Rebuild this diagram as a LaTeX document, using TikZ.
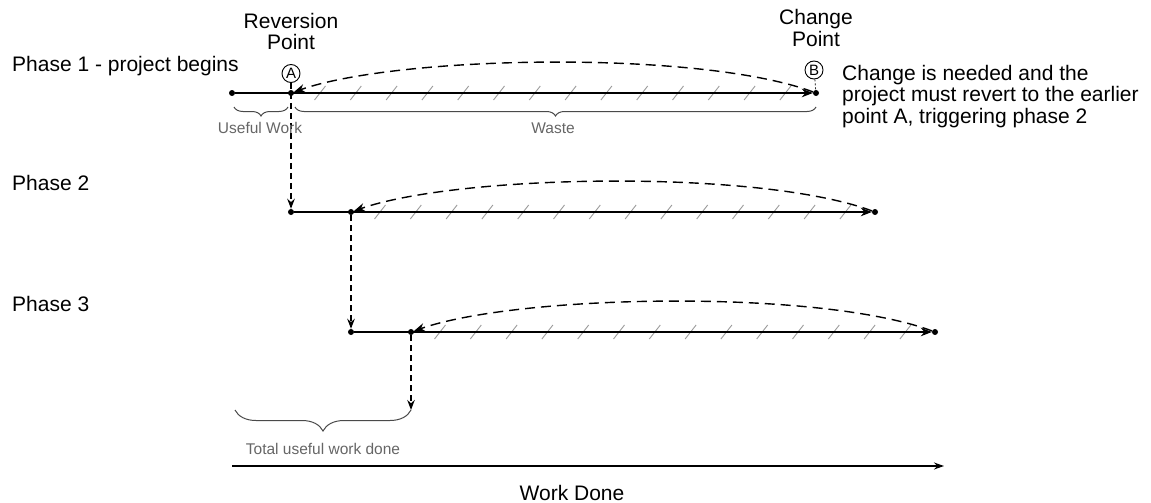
\documentclass[tikz,border=0pt]{standalone}
\usepackage{fontspec}
\setmainfont{Liberation Sans}
\usetikzlibrary{arrows.meta,decorations.pathreplacing,calc}
\definecolor{labelgray}{HTML}{666666}
\definecolor{hatchgray}{HTML}{9A9A9A}
\definecolor{bracegray}{HTML}{4A4A4A}
\begin{document}
\begin{tikzpicture}[x=1pt,y=-1pt,
  txt/.style={font=\fontsize{21}{21.5}\selectfont, inner sep=0pt},
  small/.style={font=\fontsize{15.5}{17}\selectfont, text=labelgray, inner sep=0pt},
  dot/.style={circle, fill=black, inner sep=0pt, minimum size=6pt},
  ptlabel/.style={circle, draw, line width=0.9pt, inner sep=0pt, minimum size=18pt, font=\fontsize{15}{15}\selectfont},
  work/.style={line width=1.5pt, -{Stealth[length=11pt,width=8.5pt]}},
  revert/.style={line width=1.4pt, dash pattern=on 10pt off 6pt, -{Stealth[length=11pt,width=8.5pt]}},
  drop/.style={line width=1.4pt, dash pattern=on 6pt off 4pt, -{Stealth[length=10pt,width=7.5pt]}},
  tick/.style={line width=0.7pt, dash pattern=on 2pt off 2pt},
  hatchline/.style={hatchgray, line width=0.9pt},
  curly/.style={decorate, decoration={brace, mirror, amplitude=#1}, bracegray, line width=1pt},
  axis/.style={line width=1.5pt, -{Stealth[length=10pt,width=7pt]}},
]
\useasboundingbox (0,0) rectangle (1151,503);

% phase captions
\node[txt, anchor=base west] (p1) at (12,71.5) {Phase 1 - project begins};
\node[txt, anchor=base west] (p2) at (12,190.5) {Phase 2};
\node[txt, anchor=base west] (p3) at (12,311.5) {Phase 3};

% point headings
\node[txt, align=center, anchor=north] (rev) at (291,12.7) {Reversion\\Point};
\node[txt, align=center, anchor=north] (chg) at (816,9.5) {Change\\Point};
\node[ptlabel] (cA) at (291,73.5) {A};
\node[ptlabel] (cB) at (814,70) {B};
\node[txt, align=left, anchor=north west] (note) at (842,64.7)
  {Change is needed and the\\project must revert to the earlier\\point A, triggering phase 2};

% phase 1
\node[dot] (s1) at (232,93) {};
\node[dot] (a1) at (291,93) {};
\node[dot] (b1) at (816,93) {};
\foreach \k in {0,...,13}
  \draw[hatchline] ($(a1)+(23.5+35.8*\k,7)$) -- ++(11,-14);
\draw[work] (s1) -- (b1);
\draw[revert] (b1) .. controls +(-116,-43) and +(109,-38) .. (a1);
\draw[tick] (cB) -- (b1);

% phase 2
\node[dot] (s2) at (291,212) {};
\node[dot] (a2) at (351,212) {};
\node[dot] (b2) at (875,212) {};
\foreach \k in {0,...,13}
  \draw[hatchline] ($(a2)+(23.5+35.8*\k,7)$) -- ++(11,-14);
\draw[work] (s2) -- (b2);
\draw[revert] (b2) .. controls +(-116,-43) and +(109,-38) .. (a2);

% phase 3
\node[dot] (s3) at (351,332) {};
\node[dot] (a3) at (411,332) {};
\node[dot] (b3) at (935,332) {};
\foreach \k in {0,...,13}
  \draw[hatchline] ($(a3)+(23.5+35.8*\k,7)$) -- ++(11,-14);
\draw[work] (s3) -- (b3);
\draw[revert] (b3) .. controls +(-116,-43) and +(109,-38) .. (a3);

% reverting down to the next phase
\coordinate (g) at (411,410);
\draw[drop] (cA) -- (s2);
\draw[drop] (a2) -- (s3);
\draw[drop] (a3) -- (g);

% braces and their labels
\draw[curly=9pt] ($(s1)+(2,14)$) -- ($(a1)+(-3,14)$);
\draw[curly=9pt] ($(a1)+(4,14)$) -- ($(b1)+(0,14)$);
\node[small, anchor=base] (uw) at (260,133) {Useful Work};
\node[small, anchor=base] (ws) at (553,133) {Waste};
\draw[curly=21pt] (235,410) -- (g);
\node[small, anchor=base] (tw) at (323,454) {Total useful work done};

% work axis
\coordinate (ax0) at (232,466);
\coordinate (ax1) at (944,466);
\draw[axis] (ax0) -- (ax1);
\node[txt, anchor=base] (wd) at (572,500) {Work Done};
\end{tikzpicture}
\end{document}
